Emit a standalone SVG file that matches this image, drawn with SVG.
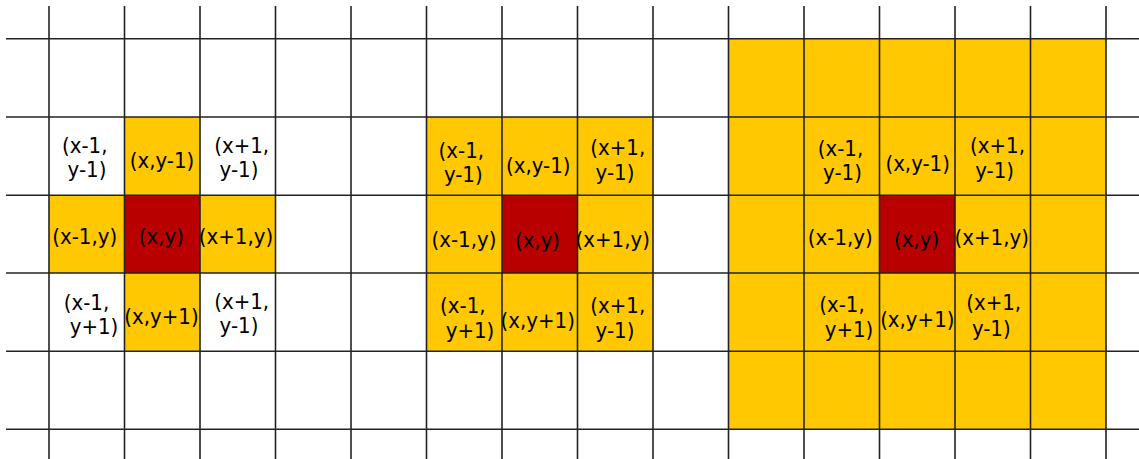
<svg xmlns="http://www.w3.org/2000/svg" width="1139" height="459" viewBox="0 0 1139 459">
<style>
.y{fill:#ffc800}
.r{fill:#b90000}
.g line{stroke:#222;stroke-width:1.6}
text{font-family:"DejaVu Sans Condensed","DejaVu Sans",sans-serif;font-stretch:condensed;font-size:22px;fill:#000;text-anchor:middle}
</style>
<rect width="1139" height="459" fill="#fff"/>
<g id="fills">
<rect class="y" x="124.5" y="117" width="75.5" height="78.3"/>
<rect class="y" x="49" y="195.3" width="226.5" height="77.7"/>
<rect class="y" x="124.5" y="273" width="75.5" height="78.3"/>
<rect class="r" x="124.5" y="195.3" width="75.5" height="77.7"/>
<rect class="y" x="426.5" y="117" width="226.5" height="234.3"/>
<rect class="r" x="502" y="195.3" width="75.5" height="77.7"/>
<rect class="y" x="728.5" y="38.7" width="377.5" height="390.6"/>
<rect class="r" x="879.5" y="195.3" width="75.5" height="77.7"/>
</g>
<g id="grid" class="g">
<line x1="49" y1="6" x2="49" y2="459"/>
<line x1="124.5" y1="6" x2="124.5" y2="459"/>
<line x1="200" y1="6" x2="200" y2="459"/>
<line x1="275.5" y1="6" x2="275.5" y2="459"/>
<line x1="351" y1="6" x2="351" y2="459"/>
<line x1="426.5" y1="6" x2="426.5" y2="459"/>
<line x1="502" y1="6" x2="502" y2="459"/>
<line x1="577.5" y1="6" x2="577.5" y2="459"/>
<line x1="653" y1="6" x2="653" y2="459"/>
<line x1="728.5" y1="6" x2="728.5" y2="459"/>
<line x1="804" y1="6" x2="804" y2="459"/>
<line x1="879.5" y1="6" x2="879.5" y2="459"/>
<line x1="955" y1="6" x2="955" y2="459"/>
<line x1="1030.5" y1="6" x2="1030.5" y2="459"/>
<line x1="1106" y1="6" x2="1106" y2="459"/>
<line x1="6" y1="38.7" x2="1139" y2="38.7"/>
<line x1="6" y1="117" x2="1139" y2="117"/>
<line x1="6" y1="195.3" x2="1139" y2="195.3"/>
<line x1="6" y1="273" x2="1139" y2="273"/>
<line x1="6" y1="351.3" x2="1139" y2="351.3"/>
<line x1="6" y1="429.3" x2="1139" y2="429.3"/>
</g>
<g id="left">
<g id="l-nw"><text x="84.7" y="153.3">(x-1,</text><text x="87" y="177">y-1)</text></g>
<g id="l-n"><text x="162" y="168">(x,y-1)</text></g>
<g id="l-ne"><text x="241.7" y="153">(x+1,</text><text x="239" y="177">y-1)</text></g>
<g id="l-w"><text x="84.7" y="243.5">(x-1,y)</text></g>
<g id="l-c"><text x="161.3" y="244">(x,y)</text></g>
<g id="l-e"><text x="236" y="243.5">(x+1,y)</text></g>
<g id="l-sw"><text x="86.5" y="310">(x-1,</text><text x="94" y="334">y+1)</text></g>
<g id="l-s"><text x="161.5" y="324">(x,y+1)</text></g>
<g id="l-se"><text x="241.7" y="308.5">(x+1,</text><text x="239" y="333">y-1)</text></g>
</g>
<g id="middle">
<g id="m-nw"><text x="461.3" y="158">(x-1,</text><text x="463.3" y="182">y-1)</text></g>
<g id="m-n"><text x="538.3" y="173">(x,y-1)</text></g>
<g id="m-ne"><text x="617.8" y="155">(x+1,</text><text x="615" y="180">y-1)</text></g>
<g id="m-w"><text x="464" y="247">(x-1,y)</text></g>
<g id="m-c"><text x="537.5" y="248">(x,y)</text></g>
<g id="m-e"><text x="612.7" y="247">(x+1,y)</text></g>
<g id="m-sw"><text x="462.8" y="313">(x-1,</text><text x="470" y="338">y+1)</text></g>
<g id="m-s"><text x="537.7" y="328">(x,y+1)</text></g>
<g id="m-se"><text x="617.8" y="313">(x+1,</text><text x="615" y="338">y-1)</text></g>
</g>
<g id="right">
<g id="r-nw"><text x="840.5" y="155.7">(x-1,</text><text x="842.5" y="180">y-1)</text></g>
<g id="r-n"><text x="917.7" y="171">(x,y-1)</text></g>
<g id="r-ne"><text x="997.5" y="153.3">(x+1,</text><text x="994.7" y="178.3">y-1)</text></g>
<g id="r-w"><text x="840.3" y="245">(x-1,y)</text></g>
<g id="r-c"><text x="916.7" y="246.7">(x,y)</text></g>
<g id="r-e"><text x="991.7" y="245">(x+1,y)</text></g>
<g id="r-sw"><text x="842" y="311.7">(x-1,</text><text x="849" y="336.7">y+1)</text></g>
<g id="r-s"><text x="917.3" y="326.7">(x,y+1)</text></g>
<g id="r-se"><text x="993.7" y="310">(x+1,</text><text x="991.3" y="336">y-1)</text></g>
</g>
</svg>
